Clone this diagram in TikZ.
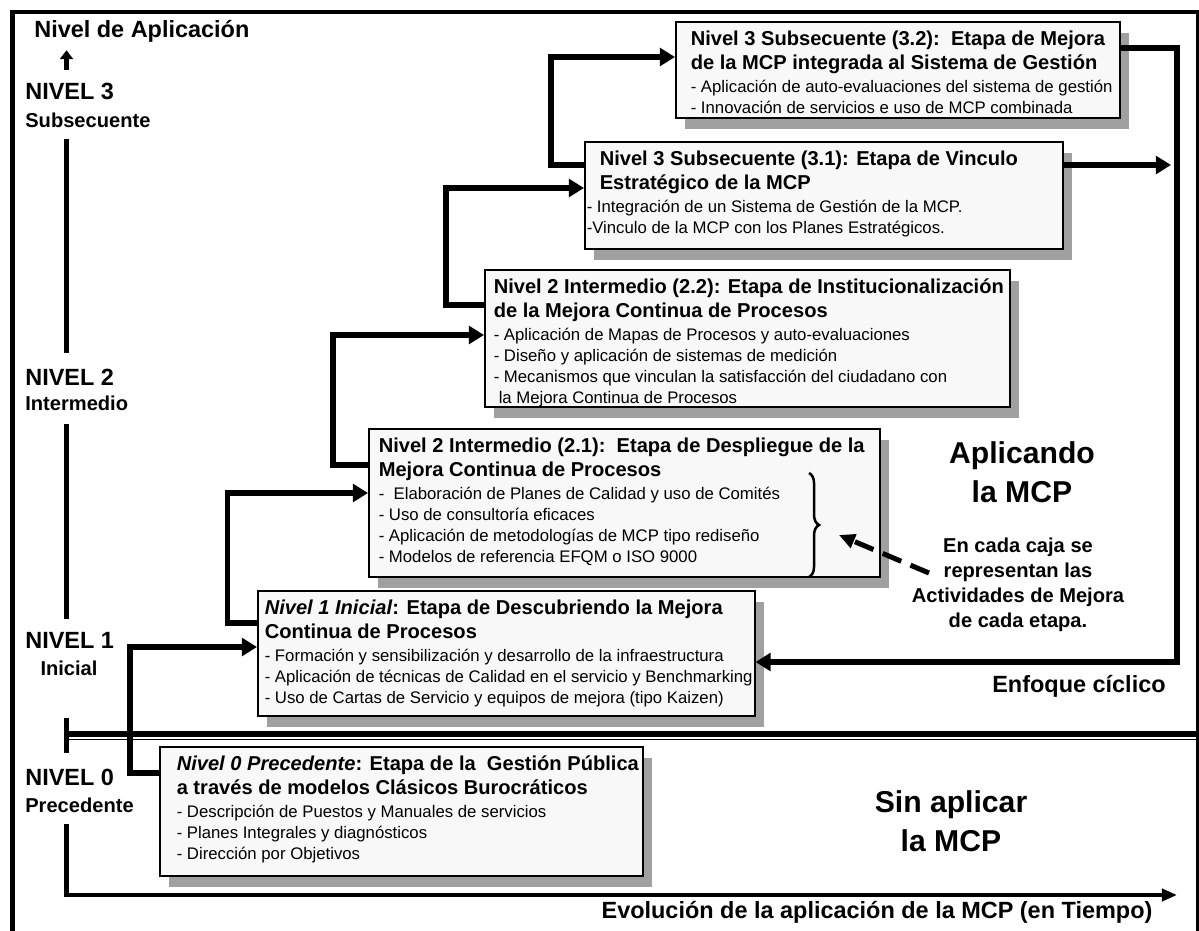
\documentclass[tikz,border=0pt]{standalone}
\usepackage{fontspec}
\setmainfont{Liberation Sans}
\usetikzlibrary{arrows.meta,shadows,calc,decorations.pathreplacing}

\newlength\px
\setlength\px{0.597pt}
\definecolor{fondocaja}{RGB}{248,248,248}
\definecolor{sombracaja}{RGB}{160,160,160}
\newcommand{\titulo}{\fontsize{12}{24\px}\selectfont\bfseries}
\newcommand{\cuerpo}{\fontsize{10}{21\px}\selectfont\mdseries}
\newcommand{\margen}[1]{\raggedright\leftskip=#1\px\rightskip=-80\px plus 1fil\parindent=0pt}

\begin{document}
\begin{tikzpicture}[x=0.597pt, y=-0.597pt,
    etapa/.style={draw, line width=0.9pt, fill=fondocaja, inner sep=0pt, anchor=north west,
      drop shadow={shadow xshift=5.4pt, shadow yshift=-6.6pt, fill=sombracaja, opacity=1}},
    flecha/.style={line width=3.3pt, -{Triangle[length=9pt,width=10.5pt]}},
    eje/.style={line width=2.7pt},
    nivel/.style={font=\fontsize{14}{17}\selectfont\bfseries, inner sep=0pt, anchor=base west},
    subnivel/.style={font=\fontsize{12}{14}\selectfont\bfseries, inner sep=0pt, anchor=base west},
    rotulo/.style={font=\fontsize{18}{39\px}\selectfont\bfseries, align=center, inner sep=0pt, anchor=north},
  ]
  \useasboundingbox (0,0) rectangle (1199,931);

  % marco
  \draw[line width=2.4pt] (12.5,960) |- (1197.5,12) -- (1197.5,960);

  % niveles
  \coordinate (ax) at (66.5,0);
  \node[nivel] (tit) at (34,38) {Nivel de Aplicación};
  \node[nivel] (n3) at (25,100) {NIVEL 3};
  \node[subnivel] (n3s) at (25,127) {Subsecuente};
  \node[nivel] (n2) at (25,385) {NIVEL 2};
  \node[subnivel] (n2s) at (25,410) {Intermedio};
  \node[nivel] (n1) at (25,648) {NIVEL 1};
  \node[subnivel, anchor=base] (n1s) at (69,675) {Inicial};
  \node[nivel] (n0) at (25,785) {NIVEL 0};
  \node[subnivel] (n0s) at (25,812) {Precedente};
  \coordinate (fin) at (1177,895);
  \coordinate (sep) at (1199,734);

  \draw[eje, -{Triangle[length=5.4pt,width=7.8pt]}] ($(n3.north -| ax)+(0,-13)$) -- ($(tit.south -| ax)+(0,7)$);
  \draw[eje] ($(n3s.south -| ax)+(0,11)$) -- ($(n2.north -| ax)+(0,-15)$);
  \draw[eje] ($(n2s.south -| ax)+(0,13)$) -- ($(n1.north -| ax)+(0,-13)$);
  \draw[eje] ($(n1s.south -| ax)+(0,42)$) -- ($(n0.north -| ax)+(0,-15)$);
  \draw[eje, -{Triangle[length=9pt,width=7.2pt]}] ($(n0s.south -| ax)+(0,11)$) |- (fin);

  % separacion
  \draw[line width=3pt] (ax |- sep) -- (sep);
  \draw[line width=0.7pt] ($(ax |- sep)+(0,5.5)$) -- ($(sep)+(0,5.5)$);

  % etapas
  \node[etapa] (b32) at (675,21) {\begin{minipage}[t][96\px][t]{444\px}\margen{15}
      \titulo\rule{0pt}{24\px}Nivel 3 Subsecuente (3.2):\ \ Etapa de Mejora\\
      de la MCP integrada al Sistema de Gestión\par\vspace{2\px}
      \cuerpo - Aplicación de auto-evaluaciones del sistema de gestión\\
      - Innovación de servicios e uso de MCP combinada\par
    \end{minipage}};
  \node[etapa] (b31) at (584,141) {\begin{minipage}[t][107\px][t]{478\px}\margen{2}
      \titulo\rule{0pt}{24\px}\hspace*{13\px}Nivel 3 Subsecuente (3.1): Etapa de Vinculo\\
      \hspace*{13\px}Estratégico de la MCP\par\vspace{2\px}
      \cuerpo - Integración de un Sistema de Gestión de la MCP.\\
      -Vinculo de la MCP con los Planes Estratégicos.\par
    \end{minipage}};
  \node[etapa] (b22) at (484,269) {\begin{minipage}[t][137\px][t]{525\px}\margen{9}
      \titulo\rule{0pt}{24\px}Nivel 2 Intermedio (2.2): Etapa de Institucionalización\\
      de la Mejora Continua de Procesos\par\vspace{2\px}
      \cuerpo - Aplicación de Mapas de Procesos y auto-evaluaciones\\
      - Diseño y aplicación de sistemas de medición\\
      - Mecanismos que vinculan la satisfacción del ciudadano con\\
      \hspace*{5\px}la Mejora Continua de Procesos\par
    \end{minipage}};
  \node[etapa] (b21) at (368,428) {\begin{minipage}[t][148\px][t]{511\px}\margen{10}
      \titulo\rule{0pt}{24\px}Nivel 2 Intermedio (2.1):\ \ Etapa de Despliegue de la\\
      Mejora Continua de Procesos\par\vspace{2\px}
      \cuerpo -\ \ Elaboración de Planes de Calidad y uso de Comités\\
      - Uso de consultoría eficaces\\
      - Aplicación de metodologías de MCP tipo rediseño\\
      - Modelos de referencia EFQM o ISO 9000\par
    \end{minipage}};
  \node[etapa] (b1) at (257,590) {\begin{minipage}[t][125\px][t]{497\px}\margen{7}
      \titulo\rule{0pt}{24\px}\textit{Nivel 1 Inicial}: Etapa de Descubriendo la Mejora\\
      Continua de Procesos\par\vspace{2\px}
      \cuerpo - Formación y sensibilización y desarrollo de la infraestructura\\
      - Aplicación de técnicas de Calidad en el servicio y Benchmarking\\
      - Uso de Cartas de Servicio y equipos de mejora (tipo Kaizen)\par
    \end{minipage}};
  \node[etapa] (b0) at (159,746) {\begin{minipage}[t][129\px][t]{483\px}\margen{17}
      \titulo\rule{0pt}{24\px}\textit{Nivel 0 Precedente}: Etapa de la\ \ Gestión Pública\\
      a través de modelos Clásicos Burocráticos\par\vspace{2\px}
      \cuerpo - Descripción de Puestos y Manuales de servicios\\
      - Planes Integrales y diagnósticos\\
      - Dirección por Objetivos\par
    \end{minipage}};

  % escalones
  \draw[flecha] ($(b0.north west)+(0,27)$) -- ++(-29,0) |- ($(b1.north west)+(0,57)$);
  \draw[flecha] ($(b1.north west)+(0,33)$) -- ++(-29.5,0) |- ($(b21.north west)+(0,65)$);
  \draw[flecha] ($(b21.north west)+(0,37)$) -- ++(-35,0) |- ($(b22.north west)+(0,66)$);
  \draw[flecha] ($(b22.north west)+(0,36)$) -- ++(-38,0) |- ($(b31.north west)+(0,47)$);
  \draw[flecha] ($(b31.north west)+(0,24)$) -- ++(-33,0) |- ($(b32.north west)+(0,36)$);

  % ciclo
  \coordinate (vinculo) at (1171,165);
  \coordinate (retorno) at (1177,662);
  \draw[flecha] ($(b31.north east)+(0,24)$) -- (vinculo);
  \draw[flecha] ($(b32.north east)+(0,27)$) -| (retorno) -- ($(b1.north east)+(0,72)$);

  % textos
  \node[rotulo] (aplic) at (1022,441) {Aplicando\\la MCP};
  \node[rotulo] (sinap) at (951,790) {Sin aplicar\\la MCP};
  \node[font=\fontsize{12}{25\px}\selectfont\bfseries, align=center, inner sep=0pt, anchor=north] (nota) at (1018,538)
    {En cada caja se\\representan las\\Actividades de Mejora\\de cada etapa.};
  \node[nivel] (ciclico) at (992,692) {Enfoque cíclico};
  \node[nivel, anchor=base] (evol) at (877,918) {Evolución de la aplicación de la MCP (en Tiempo)};

  % llave
  \coordinate (llavea) at (809,473);
  \coordinate (llaveb) at (809,577);
  \coordinate (punta) at (839,535);
  \coordinate (cola) at (929,573);
  \draw[line width=1.5pt, decorate, decoration={brace, amplitude=6pt}] (llavea) -- (llaveb);
  \draw[line width=3pt, dash pattern=on 12pt off 6pt, -{Triangle[length=9.5pt,width=8.5pt]}] (cola) -- (punta);
\end{tikzpicture}
\end{document}
